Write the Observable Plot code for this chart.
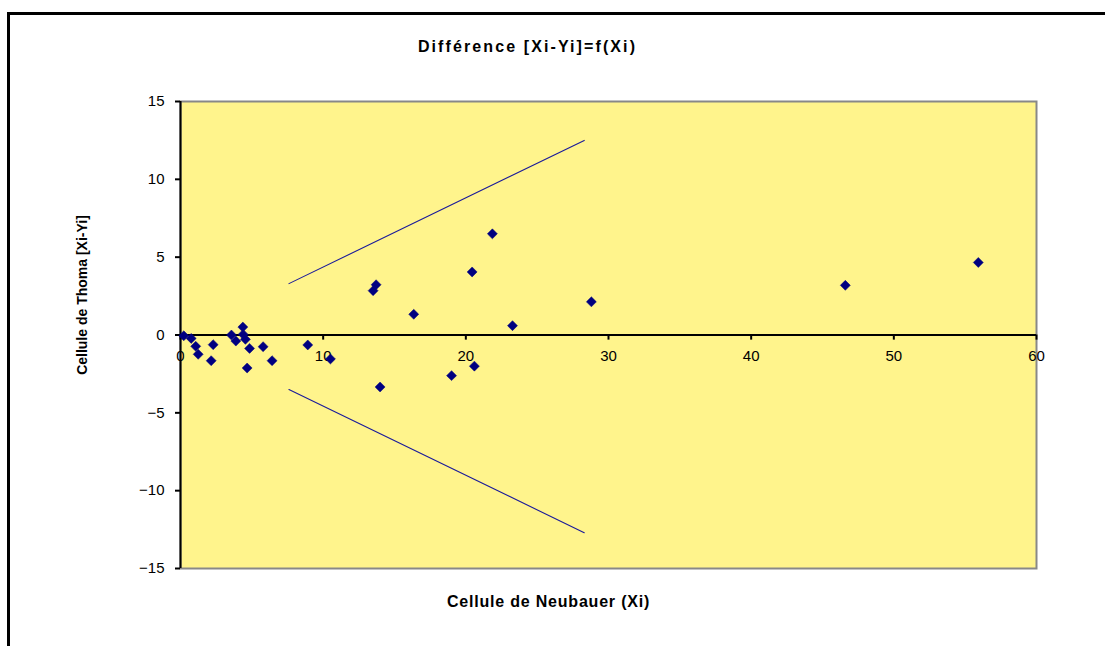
<!DOCTYPE html>
<html>
<head>
<meta charset="utf-8">
<script src="https://cdn.jsdelivr.net/npm/d3@7"></script>
<script src="https://cdn.jsdelivr.net/npm/@observablehq/plot@0.6"></script>
<style>
  html, body { margin: 0; padding: 0; background: #fff; overflow: hidden; }
  #wrap { position: relative; width: 1105px; height: 646px; overflow: hidden; }
  #border { position: absolute; left: 7px; top: 12px; width: 1300px; height: 900px;
            border-left: 3px solid #000; border-top: 3px solid #000; }
  #chart { position: absolute; left: 0; top: 0; }
  svg { font-family: "Liberation Sans", Arial, sans-serif; }
</style>
</head>
<body>
<div id="wrap"><div id="border"></div><div id="chart"></div></div>
<script>
// Points: Neubauer cell count (Xi) vs difference (Xi - Yi)
const xi   = [0.23, 0.75, 1.07, 1.24, 2.15, 2.29, 3.57, 3.88, 4.37, 4.39, 4.55, 4.67, 4.84, 5.79, 6.42, 8.92, 10.51, 13.50, 13.71, 13.99, 16.35, 19.0, 20.44, 20.6, 21.86, 23.27, 28.8, 46.6, 55.92];
const diff = [-0.05, -0.22, -0.73, -1.24, -1.65, -0.62, 0.0, -0.39, 0.51, 0.04, -0.28, -2.12, -0.86, -0.75, -1.65, -0.64, -1.54, 2.85, 3.23, -3.34, 1.33, -2.61, 4.05, -2.0, 6.5, 0.6, 2.13, 3.19, 4.66];
// Limit lines
const limX     = [7.6, 28.3];
const limUpper = [3.3, 12.5];
const limLower = [-3.5, -12.7];
// Ticks
const xTicks = [0, 10, 20, 30, 40, 50, 60];
const yTicks = [-15, -10, -5, 0, 5, 10, 15];
const title  = "Différence [Xi-Yi]=f(Xi)";
const xTitle = "Cellule de Neubauer (Xi)";
const yTitle = "Cellule de Thoma [Xi-Yi]";

const points = xi.map((x, i) => ({x, y: diff[i]}));
const upper = limX.map((x, i) => ({x, y: limUpper[i]}));
const lower = limX.map((x, i) => ({x, y: limLower[i]}));

const navy = "#000080";
const chart = Plot.plot({
  width: 1105,
  height: 646,
  marginLeft: 180,
  marginRight: 69,
  marginTop: 101,
  marginBottom: 78,
  style: {background: "transparent", fontFamily: "'Liberation Sans', Arial, sans-serif"},
  x: {domain: [0, 60], axis: null},
  y: {domain: [-15, 15], axis: null},
  marks: [
    Plot.frame({fill: "#fff48c", stroke: "#888888", strokeWidth: 2}),
    Plot.axisY(yTicks, {anchor: "left", tickSize: 5, tickPadding: 11, fontSize: 15, stroke: "#000", strokeWidth: 2, fill: "#000", label: null}),
    Plot.ruleX([0], {stroke: "#000", strokeWidth: 2}),
    Plot.ruleY([0], {stroke: "#000", strokeWidth: 2}),
    Plot.ruleX(xTicks, {x: d => d, y1: 0, y2: -0.33, stroke: "#000", strokeWidth: 2}),
    Plot.text(xTicks, {x: d => d, y: 0, dy: 21, text: d => String(d), fontSize: 15, fill: "#000"}),
    Plot.line(upper, {x: "x", y: "y", stroke: "#1a1a9a", strokeWidth: 1.1}),
    Plot.line(lower, {x: "x", y: "y", stroke: "#1a1a9a", strokeWidth: 1.1}),
    Plot.dot(points, {x: "x", y: "y", symbol: "diamond2", r: 4.5, fill: navy, stroke: navy, strokeWidth: 0.5}),
    Plot.text([title], {frameAnchor: "top", lineAnchor: "middle", textAnchor: "middle", dx: -81, dy: -55, text: d => d, fontSize: 16, fontWeight: "bold", fill: "#000"}),
    Plot.text([xTitle], {frameAnchor: "bottom", lineAnchor: "middle", textAnchor: "middle", dx: -60, dy: 33, text: d => d, fontSize: 16, fontWeight: "bold", fill: "#000"}),
    Plot.text([yTitle], {frameAnchor: "left", lineAnchor: "middle", textAnchor: "middle", dx: -98, dy: -40, rotate: -90, text: d => d, fontSize: 14, fontWeight: "bold", fill: "#000"})
  ]
});
d3.select(chart).selectAll("text").each(function() {
  if (this.textContent === title) d3.select(this).style("letter-spacing", "2.1px");
  if (this.textContent === xTitle) d3.select(this).style("letter-spacing", "0.8px");
});
document.getElementById("chart").appendChild(chart);
</script>
</body>
</html>
